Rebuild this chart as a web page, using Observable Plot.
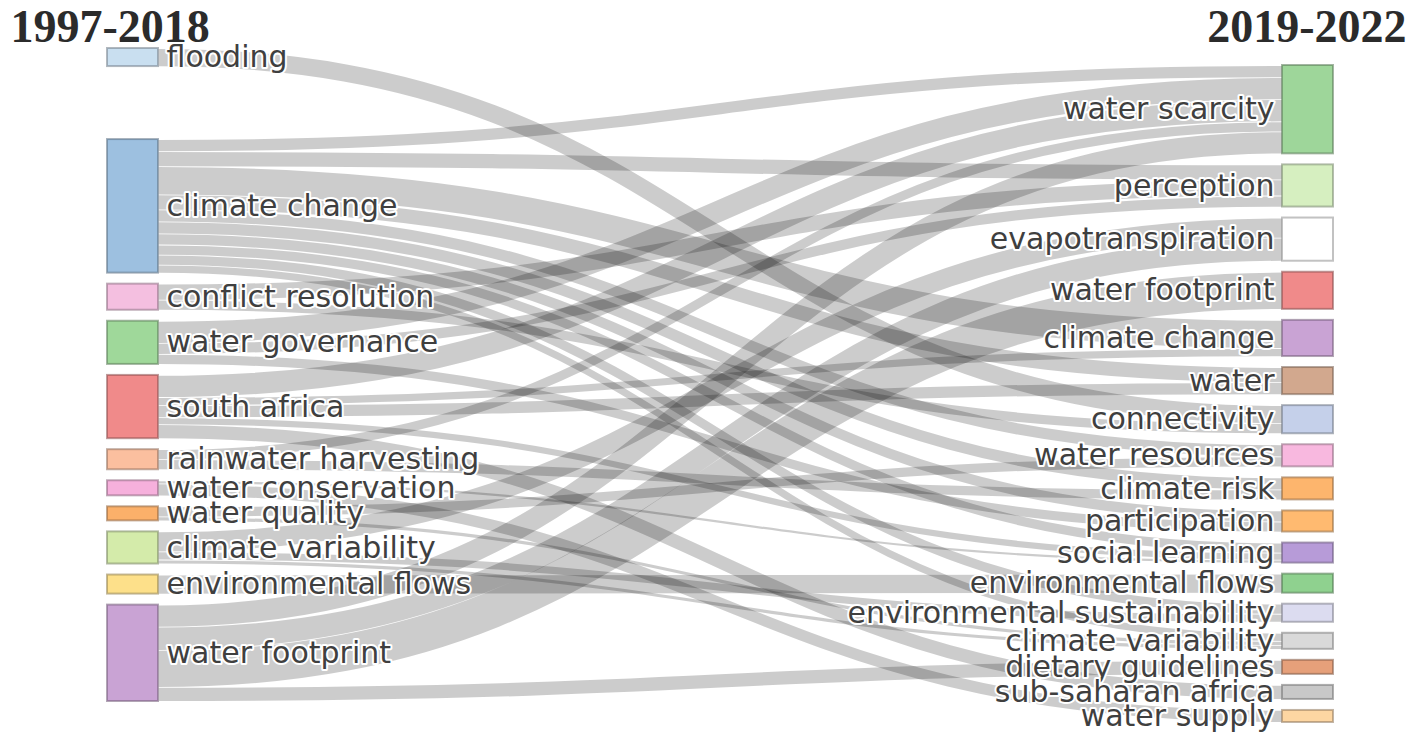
<!DOCTYPE html>
<html><head><meta charset="utf-8">
<script src="https://cdn.jsdelivr.net/npm/d3@7"></script>
<script src="https://cdn.jsdelivr.net/npm/@observablehq/plot@0.6"></script>
<style>body{margin:0;background:#fff} #chart{width:1418px;height:750px}</style>
</head><body><div id="chart"></div>
<script>
// ---- data ----
const periods = ["1997-2018", "2019-2022"];

const leftThemes = ["flooding","climate change","conflict resolution","water governance","south africa","rainwater harvesting","water conservation","water quality","climate variability","environmental flows","water footprint"];
const leftColors = ["#c9dff0","#9dc0e0","#f4bfe0","#9fd89a","#f08a8a","#fbbf9f","#f6b0dc","#fbb06a","#d4ebaa","#fde08a","#c9a3d4"];

const rightThemes = ["water scarcity","perception","evapotranspiration","water footprint","climate change","water","connectivity","water resources","climate risk","participation","social learning","environmental flows","environmental sustainability","climate variability","dietary guidelines","sub-saharan africa","water supply"];
const rightColors = ["#9ed69a","#d6efc0","#ffffff","#f08a8a","#c9a3d4","#d2a88e","#c5d0ea","#f8b8df","#fdb56d","#ffba70","#b79bd8","#8fd18f","#dcdcf0","#d9d9d9","#e6a07a","#c8c8c8","#fdd6a2"];

// links: left theme -> right theme, weight
const linkSource = ["flooding",
  "climate change","climate change","climate change","climate change","climate change","climate change","climate change","climate change","climate change","climate change",
  "conflict resolution","conflict resolution",
  "water governance","water governance","water governance",
  "south africa","south africa","south africa","south africa","south africa",
  "rainwater harvesting","rainwater harvesting",
  "water conservation","water conservation",
  "water quality","water quality",
  "climate variability","climate variability","climate variability",
  "environmental flows",
  "water footprint","water footprint","water footprint","water footprint"];
const linkTarget = ["connectivity",
  "water scarcity","perception","climate change","water","water resources","climate risk","participation","social learning","environmental sustainability","climate variability",
  "perception","connectivity",
  "water scarcity","perception","participation",
  "water scarcity","climate change","water","social learning","sub-saharan africa",
  "water scarcity","climate risk",
  "social learning","water supply",
  "water resources","climate variability",
  "evapotranspiration","environmental sustainability","climate variability",
  "environmental flows",
  "water scarcity","evapotranspiration","water footprint","dietary guidelines"];
const linkValue = [18,
  12,15,28,15,12,12,11,10,10,8,
  16,10,
  22,11,10,
  22,8,12,7,14,
  10,10,
  3,12,
  10,4,
  20,8,4,
  19,
  22,23,37,14];

// ---- layout (computed from the data) ----
const W = 1418, H = 750;
const pad = 11, nodeW = 51;
const xLeft = 107, xRight = 1333;
const rightTop = 65, rightBottom = 722, leftTop = 48, leftBottom = 701;
const nw = nodeW / (xRight - xLeft);

function mkNodes(names, colors, col, key) {
  return names.map((name, i) => ({
    name, col, color: colors[i],
    value: d3.sum(linkValue.filter((v, k) => (key === "s" ? linkSource[k] : linkTarget[k]) === name))
  }));
}
const L = mkNodes(leftThemes, leftColors, 0, "s");
const R = mkNodes(rightThemes, rightColors, 1, "t");
const ky = (rightBottom - rightTop - pad * (R.length - 1)) / d3.sum(R, d => d.value);

// right column: stacked top to bottom
let yy = rightTop;
for (const n of R) { n.y0 = yy; n.y1 = yy + n.value * ky; yy = n.y1 + pad; }
// left column: first node at top, the rest stacked to the bottom
L[0].y0 = leftTop; L[0].y1 = leftTop + L[0].value * ky;
yy = leftBottom;
for (let i = L.length - 1; i >= 1; i--) { const n = L[i]; n.y1 = yy; n.y0 = yy - n.value * ky; yy = n.y0 - pad; }

const Lby = new Map(L.map(d => [d.name, d]));
const Rby = new Map(R.map(d => [d.name, d]));
const links = linkValue.map((v, k) => ({ s: Lby.get(linkSource[k]), t: Rby.get(linkTarget[k]), value: v, w: v * ky }));
for (const n of L) {
  let off = n.y0;
  links.filter(l => l.s === n).sort((a, b) => a.t.y0 - b.t.y0).forEach(l => { l.ys = off + l.w / 2; off += l.w; });
}
for (const n of R) {
  let off = n.y0;
  links.filter(l => l.t === n).sort((a, b) => a.s.y0 - b.s.y0).forEach(l => { l.yt = off + l.w / 2; off += l.w; });
}
const nodes = [...L, ...R];
nodes.forEach(n => { n.x1 = n.col === 0 ? 0 : 1 - nw; n.x2 = n.x1 + nw; n.yc = (n.y0 + n.y1) / 2; n.stroke = d3.rgb(n.color).darker(1.6).formatHex(); });

const labelFont = "DejaVu Sans, Verdana, sans-serif";
const titleFont = "Liberation Serif, Times New Roman, serif";
const chart = Plot.plot({
  width: W, height: H,
  margin: 0,
  x: { domain: [0, 1], range: [xLeft, xRight], axis: null },
  y: { domain: [0, H], range: [0, H], axis: null },
  color: { type: "identity" },
  style: { background: "#fff", overflow: "visible" },
  marks: [
    Plot.link(links, {
      x1: () => nw, x2: () => 1 - nw, y1: "ys", y2: "yt",
      strokeWidth: d => Math.max(1, d.w - 0.8), stroke: "#000", strokeOpacity: 0.2, curve: "bump-x"
    }),
    Plot.rect(nodes, {
      x1: "x1", x2: "x2", y1: "y0", y2: "y1",
      fill: "color", stroke: "stroke", strokeWidth: 2, strokeOpacity: 0.55
    }),
    Plot.text(L, {
      x: "x2", y: "yc", text: "name", dx: 8, textAnchor: "start",
      fontSize: 30, fontFamily: labelFont, fill: "#3f3f3f", stroke: "#fff", strokeWidth: 4
    }),
    Plot.text(R, {
      x: "x1", y: "yc", text: "name", dx: -8, textAnchor: "end",
      fontSize: 30, fontFamily: labelFont, fill: "#3f3f3f", stroke: "#fff", strokeWidth: 4
    }),
    Plot.text([periods[0]], {
      frameAnchor: "top-left", text: d => d, dx: 10, dy: 27, textAnchor: "start", lineAnchor: "middle",
      fontSize: 46, fontWeight: "bold", fontFamily: titleFont, fill: "#2b2b2b"
    }),
    Plot.text([periods[1]], {
      frameAnchor: "top-right", text: d => d, dx: -12, dy: 27, textAnchor: "end", lineAnchor: "middle",
      fontSize: 46, fontWeight: "bold", fontFamily: titleFont, fill: "#2b2b2b"
    })
  ]
});
document.getElementById("chart").appendChild(chart);
</script>
</body></html>
